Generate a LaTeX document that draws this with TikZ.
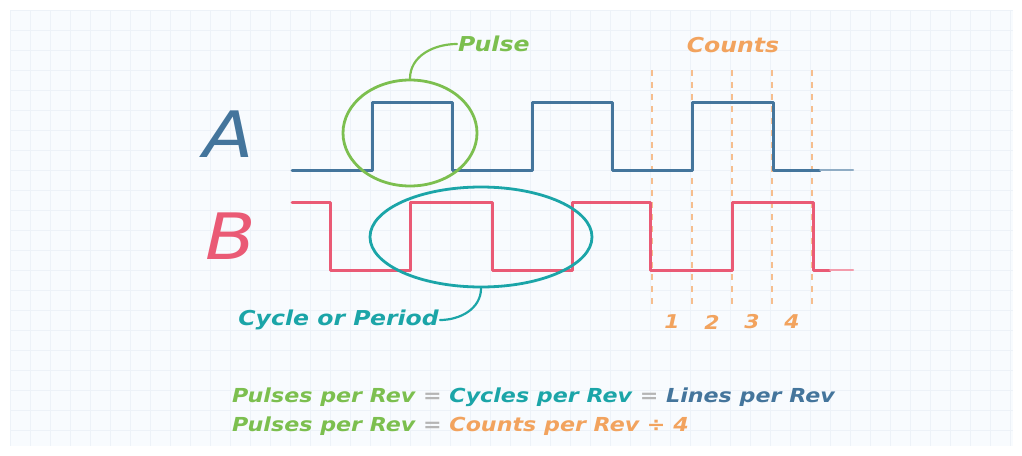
\documentclass[tikz,border=0pt]{standalone}
\usepackage{fontspec}
\setmainfont{DejaVu Sans}
\newfontfamily\handfont[FakeStretch=1.15]{DejaVu Sans}
\usetikzlibrary{shapes.geometric}
\definecolor{sigA}{HTML}{44759C}
\definecolor{sigB}{HTML}{EA5A75}
\definecolor{pgreen}{HTML}{7CBF4F}
\definecolor{pteal}{HTML}{1BA5A8}
\definecolor{porange}{HTML}{F2A35E}
\definecolor{pgrey}{HTML}{B5B5B5}
\definecolor{bgfill}{HTML}{F8FBFE}
\definecolor{bggrid}{HTML}{EDF2F8}
\tikzset{
  wave/.style={line width=3pt, line join=round, line cap=round},
  hoop/.style={ellipse, draw, line width=2.8pt, inner sep=0pt},
  leader/.style={line width=2.2pt, line cap=round},
  countline/.style={porange!70, line width=1.8pt, dash pattern=on 6pt off 6pt},
  lbl/.style={font=\handfont\bfseries\itshape\fontsize{20.5}{24}\selectfont, inner sep=1pt},
  numlbl/.style={font=\handfont\bfseries\itshape\fontsize{19}{22}\selectfont, inner sep=1pt},
  big/.style={font=\handfont\itshape\fontsize{64}{70}\selectfont, inner sep=0pt},
  eqtext/.style={font=\handfont\bfseries\itshape\fontsize{19.3}{23}\selectfont, inner sep=0pt, anchor=west}
}
\begin{document}
\begin{tikzpicture}[x=1pt,y=-1pt]
\useasboundingbox (0,0) rectangle (1022,455);
\fill[white] (0,0) rectangle (1022,455);
\fill[bgfill] (10,10) rectangle (1013,446);
\begin{scope}
\clip (10,10) rectangle (1013,446);
\foreach \i in {0,...,50} { \draw[bggrid, line width=0.8pt] (10+20*\i,10) -- (10+20*\i,446); }
\foreach \j in {0,...,22} { \draw[bggrid, line width=0.8pt] (10,10+20*\j) -- (1013,10+20*\j); }
\end{scope}

% count lines
\foreach \x/\n in {652/c0,692/c1,732/c2,772/c3,812/c4} {
  \coordinate (\n t) at (\x,70);
  \coordinate (\n b) at (\x,304);
  \draw[countline] (\n t) -- (\n b);
}

% signal A
\draw[wave, sigA] (292,170) -- (372,170) -- (372,102) -- (452,102) -- (452,170)
  -- (532,170) -- (532,102) -- (612,102) -- (612,170) -- (692,170) -- (692,102)
  -- (773,102) -- (773,170) -- (820,170);
\draw[wave, sigA!60, line width=2pt] (820,170) -- (853,170);

% signal B
\draw[wave, sigB] (292,202) -- (330,202) -- (330,270) -- (410,270) -- (410,202)
  -- (492,202) -- (492,270) -- (572,270) -- (572,202) -- (650,202) -- (650,270)
  -- (732,270) -- (732,202) -- (813,202) -- (813,270) -- (830,270);
\draw[wave, sigB!60, line width=2pt] (830,270) -- (853,270);

\node[big, text=sigA] (A) at (229,134) {A};
\node[big, text=sigB] (B) at (231,236) {B};

% pulse ellipse
\node[hoop, draw=pgreen, minimum width=134pt, minimum height=106pt] (pulse) at (410,133) {};
\node[lbl, text=pgreen, anchor=west] (pulselbl) at (457,44) {Pulse};
\draw[leader, pgreen] (pulselbl.west) to[out=180,in=90] (pulse.north);

% cycle ellipse
\node[hoop, draw=pteal, minimum width=222pt, minimum height=100pt] (cycle) at (481,237) {};
\node[lbl, text=pteal, anchor=east] (cyclelbl) at (440,320) {Cycle or Period};
\draw[leader, pteal] (cycle.south) to[out=-90,in=0] (cyclelbl.east);

% counts
\node[lbl, text=porange] (counts) at (733,45) {Counts};
\foreach \x/\k in {672/1,712/2,752/3,792/4} {
  \node[numlbl, text=porange] (n\k) at (\x,322) {\k};
}

% equations
\node[eqtext] (eq1) at (232,397) {\textcolor{pgreen}{Pulses per Rev} \textcolor{pgrey}{=} \textcolor{pteal}{Cycles per Rev} \textcolor{pgrey}{=} \textcolor{sigA}{Lines per Rev}};
\node[eqtext] (eq2) at (232,426) {\textcolor{pgreen}{Pulses per Rev} \textcolor{pgrey}{=} \textcolor{porange}{Counts per Rev ÷ 4}};
\end{tikzpicture}
\end{document}
